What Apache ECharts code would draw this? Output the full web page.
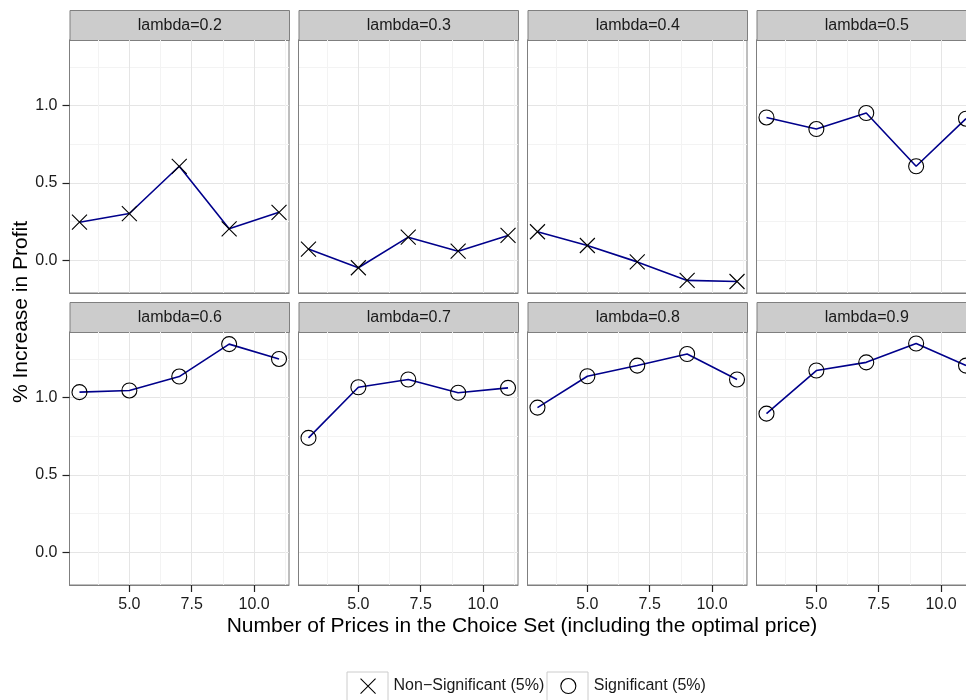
<!DOCTYPE html>
<html>
<head>
<meta charset="utf-8">
<script src="https://cdn.jsdelivr.net/npm/echarts@6/dist/echarts.min.js"></script>
<style>html,body{margin:0;padding:0;background:#fff;overflow:hidden}#c{width:990px;height:700px}</style>
</head>
<body>
<div id="c"></div>
<script>
// ---- data ----
const prices = [3, 5, 7, 9, 11];
const panelLabels = ['lambda=0.2','lambda=0.3','lambda=0.4','lambda=0.5','lambda=0.6','lambda=0.7','lambda=0.8','lambda=0.9'];
const lambda02 = [0.246, 0.302, 0.608, 0.203, 0.310];
const lambda03 = [0.072, -0.049, 0.149, 0.058, 0.160];
const lambda04 = [0.184, 0.095, -0.011, -0.131, -0.138];
const lambda05 = [0.924, 0.849, 0.953, 0.608, 0.916];
const lambda06 = [1.036, 1.047, 1.137, 1.347, 1.251];
const lambda07 = [0.740, 1.068, 1.118, 1.032, 1.064];
const lambda08 = [0.936, 1.139, 1.208, 1.283, 1.118];
const lambda09 = [0.897, 1.176, 1.229, 1.351, 1.208];
const significant = [false, false, false, true, true, true, true, true];
const xTicks = [5, 7.5, 10];
const yTicks = [0, 0.5, 1.0];
const legendNames = ['Non\u2212Significant (5%)', 'Significant (5%)'];
const xTitle = 'Number of Prices in the Choice Set (including the optimal price)';
const yTitle = '% Increase in Profit';

const panelValues = [lambda02, lambda03, lambda04, lambda05, lambda06, lambda07, lambda08, lambda09];

// ---- layout ----
const FONT = '"Liberation Sans", Arial, Helvetica, sans-serif';
const colLeft = [69.5, 298.5, 527.5, 756.5];
const panelW = 219.5;
const rowTop = [40, 332];
const panelH = 253;
const stripH = 30;
const XPATH = 'path://M0,0L10,10M10,0L0,10';

// ggplot-like 5% expansion of the scales
const allY = panelValues.flat();
const yLo = Math.min(...allY), yHi = Math.max(...allY);
const yMin = yLo - 0.05 * (yHi - yLo), yMax = yHi + 0.05 * (yHi - yLo);
const xLo = Math.min(...prices), xHi = Math.max(...prices);
const xMin = xLo - 0.05 * (xHi - xLo), xMax = xHi + 0.05 * (xHi - xLo);

const grids = [], xAxes = [], yAxes = [], series = [], graphics = [];
for (let i = 0; i < 8; i++) {
  const r = Math.floor(i / 4), c = i % 4;
  grids.push({
    left: colLeft[c], top: rowTop[r], width: panelW, height: panelH,
    show: true, borderColor: '#7f7f7f', borderWidth: 1, backgroundColor: '#fff'
  });
  xAxes.push({
    type: 'value', gridIndex: i, min: xMin, max: xMax, minInterval: 2.5, maxInterval: 2.5,
    axisLine: { show: true, onZero: false, lineStyle: { color: '#7f7f7f', width: 1 } },
    axisTick: { show: r === 1, length: 7, customValues: xTicks, lineStyle: { color: '#222', width: 1.2 } },
    axisLabel: { show: r === 1, customValues: xTicks, margin: 12, fontSize: 16, color: '#1a1a1a', fontFamily: FONT,
      formatter: v => Number(v).toFixed(1) },
    splitLine: { show: true, lineStyle: { color: '#e5e5e5', width: 1 } },
    minorTick: { splitNumber: 2 },
    minorSplitLine: { show: true, lineStyle: { color: '#f3f3f3', width: 1 } }
  });
  yAxes.push({
    type: 'value', gridIndex: i, min: yMin, max: yMax, minInterval: 0.5, maxInterval: 0.5,
    axisLine: { show: true, onZero: false, lineStyle: { color: '#7f7f7f', width: 1 } },
    axisTick: { show: c === 0, length: 7, customValues: yTicks, lineStyle: { color: '#222', width: 1.2 } },
    axisLabel: { show: c === 0, customValues: yTicks, margin: 12, fontSize: 16, color: '#1a1a1a', fontFamily: FONT,
      formatter: v => Number(v).toFixed(1) },
    splitLine: { show: true, lineStyle: { color: '#e5e5e5', width: 1 } },
    minorTick: { splitNumber: 2 },
    minorSplitLine: { show: true, lineStyle: { color: '#f3f3f3', width: 1 } }
  });
  const sig = significant[i];
  series.push({
    type: 'line', name: sig ? legendNames[1] : legendNames[0],
    xAxisIndex: i, yAxisIndex: i,
    data: prices.map((x, j) => [x, panelValues[i][j]]),
    symbol: sig ? 'circle' : XPATH, symbolSize: 15, showSymbol: true,
    lineStyle: { color: '#00008B', width: 1.6 },
    itemStyle: { color: 'transparent', borderColor: '#000', borderWidth: 1.1 },
    clip: false, animation: false, emphasis: { disabled: true }, silent: true
  });
  // facet strip
  graphics.push({
    type: 'group', left: colLeft[c], top: rowTop[r] - stripH,
    children: [
      { type: 'rect', shape: { x: 0, y: 0, width: panelW, height: stripH },
        style: { fill: '#cccccc', stroke: '#7f7f7f', lineWidth: 1 } },
      { type: 'text', x: panelW / 2, y: stripH / 2,
        style: { text: panelLabels[i], fill: '#1a1a1a', font: '16px ' + FONT, align: 'center', verticalAlign: 'middle' } }
    ]
  });
}
// axis titles
graphics.push({ type: 'text', x: 522, y: 626,
  style: { text: xTitle, fill: '#000', font: '21px ' + FONT, align: 'center', verticalAlign: 'middle' } });
graphics.push({ type: 'text', x: 21, y: 312, rotation: Math.PI / 2,
  style: { text: yTitle, fill: '#000', font: '21px ' + FONT, align: 'center', verticalAlign: 'middle' } });
// legend key boxes
graphics.push({ type: 'rect', shape: { x: 347, y: 672, width: 41, height: 41 }, style: { fill: 'none', stroke: '#cccccc', lineWidth: 1 }, z: -1 });
graphics.push({ type: 'rect', shape: { x: 547, y: 672, width: 41, height: 41 }, style: { fill: 'none', stroke: '#cccccc', lineWidth: 1 }, z: -1 });

const chart = echarts.init(document.getElementById('c'), null, { renderer: 'canvas' });
chart.setOption({
  animation: false,
  grid: grids, xAxis: xAxes, yAxis: yAxes, series: series,
  legend: {
    left: 360, top: 678, padding: 0, itemWidth: 15, itemHeight: 15, itemGap: 16, selectedMode: false,
    data: [
      { name: legendNames[0], icon: XPATH, itemStyle: { color: 'transparent', borderColor: '#000', borderWidth: 1.1 } },
      { name: legendNames[1], icon: 'circle', itemStyle: { color: 'transparent', borderColor: '#000', borderWidth: 1.1 } }
    ],
    textStyle: { fontSize: 16, color: '#1a1a1a', fontFamily: FONT, padding: [0, 0, 0, 13] }
  },
  graphic: graphics
});
</script>
</body>
</html>
